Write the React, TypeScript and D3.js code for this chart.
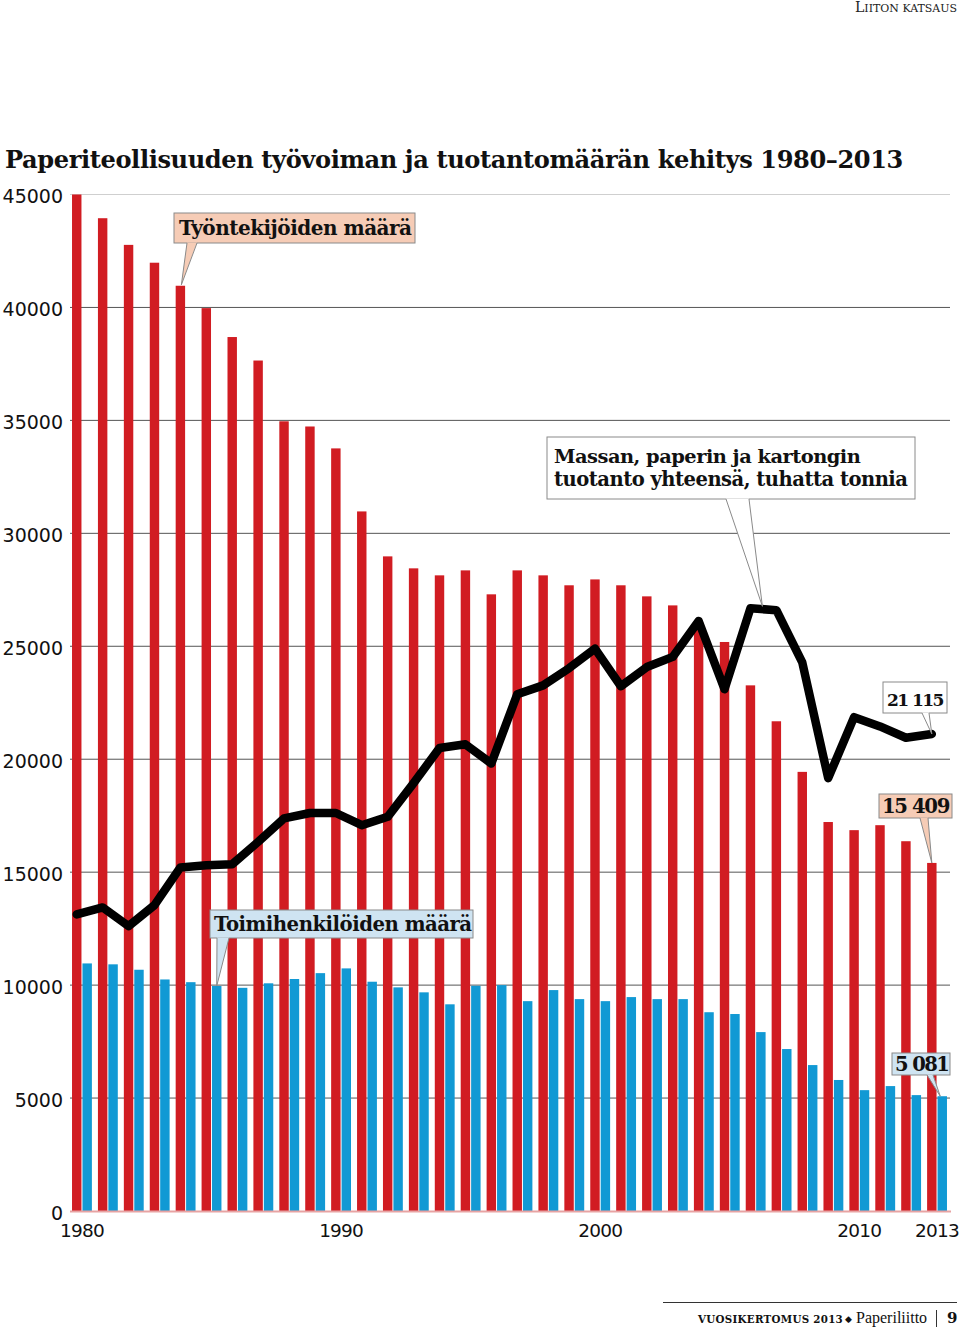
import React, { useLayoutEffect, useRef, useState } from "react";
import * as d3 from "d3";

const years = [1980,1981,1982,1983,1984,1985,1986,1987,1988,1989,1990,1991,1992,1993,1994,1995,1996,1997,1998,1999,2000,2001,2002,2003,2004,2005,2006,2007,2008,2009,2010,2011,2012,2013];
// Työntekijöiden määrä (workers)
const workers = [45000,43950,42770,41980,40960,39970,38690,37650,34960,34730,33760,30970,28980,28450,28140,28360,27300,28360,28140,27700,27960,27700,27210,26810,26050,25190,23270,21680,19440,17220,16860,17080,16370,15409];
// Toimihenkilöiden määrä (salaried staff)
const staff = [10960,10920,10680,10250,10130,9960,9880,10080,10270,10530,10740,10150,9900,9680,9150,9970,10000,9290,9780,9380,9290,9470,9380,9380,8800,8720,7920,7170,6460,5800,5350,5530,5130,5081];
// Massan, paperin ja kartongin tuotanto, tuhatta tonnia
const production = [13130,13440,12610,13540,15210,15310,15350,16340,17380,17620,17620,17080,17450,18940,20500,20660,19810,22880,23270,24030,24900,23230,24080,24530,26120,23100,26680,26600,24290,19160,21860,21450,20950,21115];
const yTicks = [0,5000,10000,15000,20000,25000,30000,35000,40000,45000];
const xTickLabels = [1980,1990,2000,2010,2013];

const RED = "#d11c22";
const BLUE = "#1199d4";
const PEACH = "#f6ccb6";
const LBLUE = "#cfe4f2";
const HEAVY = "'DejaVu Serif', serif";
const SANS = "'DejaVu Sans', sans-serif";

// text whose font size is tuned so its natural width matches a target width
function FitText({ x, y, width, size, maxSize, children, ...rest }: any) {
  const ref = useRef<SVGTextElement>(null);
  const [fs, setFs] = useState(size);
  useLayoutEffect(() => {
    const el = ref.current;
    if (!el) return;
    const len = el.getComputedTextLength();
    if (len > 0) {
      let next = (fs * width) / len;
      if (maxSize && next > maxSize) next = maxSize;
      if (Math.abs(next - fs) > 0.05) setFs(next);
    }
  }, [fs, width]);
  return (
    <text ref={ref} x={x} y={y} fontSize={fs} {...rest}>{children}</text>
  );
}

function Callout({ x, y, w, h, fill, b1, b2, tip, lines, textX, baselines, lengths, size, spacing }: any) {
  return (
    <g>
      <rect x={x} y={y} width={w} height={h} fill={fill} stroke="#8a8a8a" strokeWidth={1} />
      <polygon points={`${b1},${y + h - 0.5} ${b2},${y + h - 0.5} ${tip[0]},${tip[1]}`} fill={fill} />
      <line x1={b1} y1={y + h} x2={tip[0]} y2={tip[1]} stroke="#8a8a8a" strokeWidth={1} />
      <line x1={b2} y1={y + h} x2={tip[0]} y2={tip[1]} stroke="#8a8a8a" strokeWidth={1} />
      {lines.map((t: string, i: number) => (
        <FitText key={i} x={textX} y={baselines[i]} width={lengths[i]} size={size}
          fontFamily={HEAVY} fontWeight="bold" fill="#111" letterSpacing={spacing || 0}>{t}</FitText>
      ))}
    </g>
  );
}

export default function App() {
  const W = 960, H = 1330;
  const x = d3.scaleBand<number>().domain(years).range([69, 950]).padding(0);
  const sub = d3.scaleBand<string>().domain(["red", "blue"]).range([0, x.step()]).paddingInner(0.096).paddingOuter(0.29);
  const y = d3.scaleLinear().domain([0, 45000]).range([1211, 194.5]);
  const bw = sub.bandwidth();
  const redC = (yr: number) => (x(yr) as number) + (sub("red") as number) + bw / 2;
  const blueC = (yr: number) => (x(yr) as number) + (sub("blue") as number) + bw / 2;
  const center = (yr: number) => (x(yr) as number) + x.step() / 2;

  const line = d3.line<number>().x((_, i) => redC(years[i])).y((d) => y(d));
  const last = years.length - 1;

  return (
    <svg width={W} height={H} style={{ position: "absolute", left: 0, top: 0, background: "#fff" }}>
      {/* header */}
      <FitText x={855} y={11.5} width={102} size={13} fontFamily="'DejaVu Serif', serif" fill="#222">
        <tspan>L</tspan><tspan fontSize="0.78em">IITON KATSAUS</tspan>
      </FitText>

      {/* title */}
      <FitText x={5} y={168} width={898} size={26} fontFamily={HEAVY} fontWeight="bold" fill="#111" letterSpacing={-0.4}>Paperiteollisuuden työvoiman ja tuotantomäärän kehitys 1980–2013</FitText>

      {/* gridlines */}
      {yTicks.filter((t) => t > 0).map((t) => (
        <line key={t} x1={70} x2={950} y1={y(t)} y2={y(t)} stroke={t === 45000 ? "#cfcfcf" : "#555"} strokeWidth={1} />
      ))}
      {/* y labels */}
      {yTicks.map((t) => (
        <text key={t} x={63} y={y(t) + 3} textAnchor="end" dominantBaseline="middle" fontFamily={SANS} fontSize={19} fill="#111">{t}</text>
      ))}

      {/* bars */}
      {years.map((yr, i) => (
        <g key={yr}>
          <rect x={(x(yr) as number) + (sub("red") as number)} y={y(workers[i])} width={bw} height={y(0) - y(workers[i])} fill={RED} />
          <rect x={(x(yr) as number) + (sub("blue") as number)} y={y(staff[i])} width={bw} height={y(0) - y(staff[i])} fill={BLUE} />
        </g>
      ))}
      {/* baseline */}
      <line x1={70} x2={951} y1={y(0) + 0.5} y2={y(0) + 0.5} stroke="#e7a3a3" strokeWidth={2} />

      {/* x labels */}
      {xTickLabels.map((yr) => (
        <text key={yr} x={center(yr)} y={1237} textAnchor="middle" fontFamily={SANS} fontSize={18.5} letterSpacing={-0.8} fill="#111">{yr}</text>
      ))}

      {/* production line */}
      <path d={line(production) as string} fill="none" stroke="#000" strokeWidth={8.5} strokeLinejoin="round" strokeLinecap="round" />

      {/* callouts */}
      <Callout x={174} y={213} w={241} h={30} fill={PEACH} b1={187} b2={197}
        tip={[redC(1984) + 1, y(workers[4]) - 1]} lines={["Työntekijöiden määrä"]} textX={179} baselines={[235]} lengths={[233]} size={20} spacing={-0.5} />
      <Callout x={547} y={437} w={368} h={62} fill="#fff" b1={726} b2={749}
        tip={[(redC(2006) + redC(2007)) / 2 - 1, y(production[26]) - 2]}
        lines={["Massan, paperin ja kartongin", "tuotanto yhteensä, tuhatta tonnia"]} textX={554} baselines={[463, 486]} lengths={[307, 354]} size={20} spacing={-0.5} />
      <Callout x={883} y={682} w={64} h={31} fill="#fff" b1={922} b2={929}
        tip={[redC(2013), y(production[last])]} lines={["21 115"]} textX={887} baselines={[706]} lengths={[56]} size={20} spacing={-1.6} />
      <Callout x={879} y={794} w={73} h={24} fill={PEACH} b1={920} b2={928}
        tip={[redC(2013), y(workers[last])]} lines={["15 409"]} textX={882} baselines={[813]} lengths={[67]} size={20} spacing={-1.4} />
      <Callout x={210} y={910} w={263} h={28} fill={LBLUE} b1={217} b2={229}
        tip={[blueC(1985), y(staff[5])]} lines={["Toimihenkilöiden määrä"]} textX={214} baselines={[931]} lengths={[258]} size={20} spacing={-0.5} />
      <Callout x={892} y={1053} w={58} h={22} fill={LBLUE} b1={927} b2={933}
        tip={[blueC(2013) - 2, y(staff[last])]} lines={["5 081"]} textX={895} baselines={[1071]} lengths={[53]} size={20} spacing={-1.6} />

      {/* footer */}
      <line x1={663} x2={957} y1={1302.5} y2={1302.5} stroke="#333" strokeWidth={1} />
      <FitText x={698} y={1323} width={145} size={11} fontFamily="'DejaVu Serif', serif" fontWeight="bold" fill="#111" letterSpacing={0.3}>VUOSIKERTOMUS 2013</FitText>
      <text x={845} y={1322} fontSize={9} fontFamily="'DejaVu Sans', sans-serif" fill="#111">◆</text>
      <text x={856} y={1323} fontSize={16} fontFamily="'Liberation Serif', serif" fill="#111">Paperiliitto</text>
      <line x1={936.5} x2={936.5} y1={1310} y2={1327} stroke="#333" strokeWidth={1} />
      <text x={947} y={1323} fontSize={15} fontWeight="bold" fontFamily="'DejaVu Serif', serif" fill="#111">9</text>
    </svg>
  );
}
